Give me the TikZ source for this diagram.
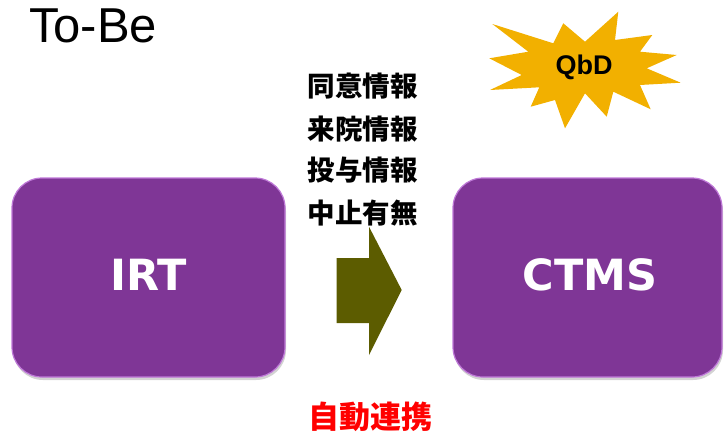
\documentclass[tikz,border=0pt]{standalone}
\usepackage{fontspec}
\setmainfont{Liberation Sans}
\newfontfamily\cjk{Noto Sans CJK JP}
\newfontfamily\boxfont{DejaVu Sans}
\usetikzlibrary{shadows}
\definecolor{boxpurple}{RGB}{127,54,150}
\definecolor{boxlight}{RGB}{190,120,215}
\definecolor{stargold}{RGB}{242,176,0}
\definecolor{arrowolive}{RGB}{92,92,0}
\tikzset{
  sysbox/.style={fill=boxpurple, draw=boxlight, line width=1.2pt, rounded corners=30pt,
    drop shadow={shadow xshift=1pt, shadow yshift=-3pt, opacity=0.35}},
  systext/.style={text=white, font=\boxfont\bfseries\fontsize{43}{50}\selectfont},
  infotext/.style={font=\cjk\bfseries\fontsize{27.5}{30}\selectfont, text=black, inner sep=0pt},
}
\begin{document}
\begin{tikzpicture}[x=1pt,y=-1pt]
\useasboundingbox (0,0) rectangle (725,431);
% title
\node[anchor=west, inner sep=0pt, font=\fontsize{49}{54}\selectfont] (title) at (29,26) {To-Be};
% boxes
\path[sysbox] (12,178) rectangle (285,377);
\node[systext] (irt) at (148.5,275) {IRT};
\path[sysbox] (453,178) rectangle (722,377);
\node[systext] (ctms) at (590,275) {CTMS};
% star
\path[fill=stargold] (492.3,24) -- (553.3,43.3) -- (563.3,23.3) -- (585,41.7) -- (618.3,11.7)
  -- (615,40) -- (652.3,35) -- (640,51.7) -- (676.7,55) -- (646.7,68.3) -- (680.7,82.7)
  -- (640,85) -- (650.7,109.3) -- (613.3,91.7) -- (606.7,116.7) -- (585,93.3) -- (565,128.3)
  -- (555,100) -- (530.7,106.7) -- (539.3,87.3) -- (490,90) -- (521.7,75) -- (489.3,58.3)
  -- (528.3,51.7) -- cycle;
\node[font=\bfseries\fontsize{27}{30}\selectfont, inner sep=0pt] (qbd) at (584,67) {QbD};
% info texts
\node[infotext] (i1) at (362.5,86) {同意情報};
\node[infotext] (i2) at (362.5,129) {来院情報};
\node[infotext] (i3) at (362.5,170) {投与情報};
\node[infotext] (i4) at (362.5,213) {中止有無};
% arrow
\path[fill=arrowolive] (336.7,258) -- (369,258) -- (369,226.7) -- (401.7,290) -- (369,355)
  -- (369,323) -- (336.7,323) -- cycle;
% auto link
\node[font=\cjk\bfseries\fontsize{31}{34}\selectfont, text=red, inner sep=0pt] (auto) at (370.5,417) {自動連携};
\end{tikzpicture}
\end{document}
